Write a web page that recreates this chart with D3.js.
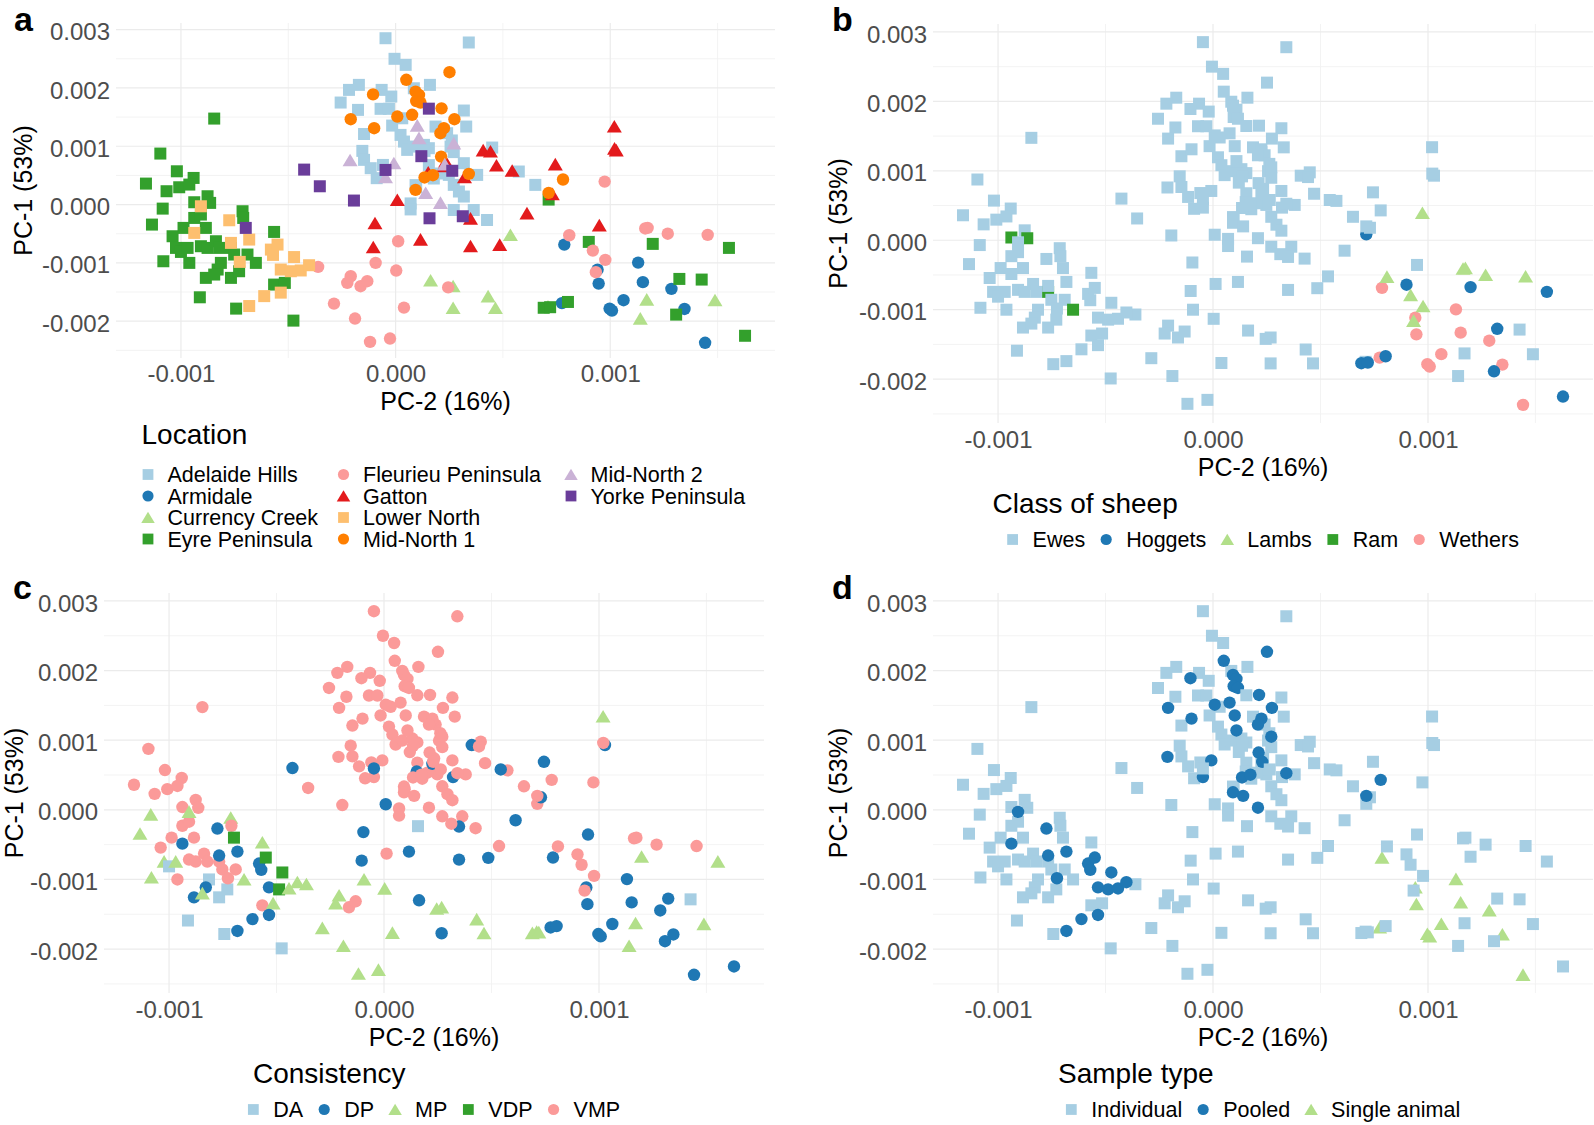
<!DOCTYPE html>
<html>
<head>
<meta charset="utf-8">
<script src="https://cdn.jsdelivr.net/npm/d3@7"></script>
<style>
  body { margin: 0; background: #fff; }
  svg { display: block; }
</style>
</head>
<body>
<svg id="fig" width="1594" height="1125"></svg>
<script>
// category levels, in legend order
var locations = ["Adelaide Hills", "Armidale", "Currency Creek", "Eyre Peninsula", "Fleurieu Peninsula",
                 "Gatton", "Lower North", "Mid-North 1", "Mid-North 2", "Yorke Peninsula"];
var sheepClasses = ["Ewes", "Hoggets", "Lambs", "Ram", "Wethers"];
var consistencies = ["DA", "DP", "MP", "VDP", "VMP"];
var sampleTypes = ["Individual", "Pooled", "Single animal"];

// axis ticks (PC values in units of 0.001)
var xTicks = [-1, 0, 1];
var xMinor = [-0.5, 0.5, 1.5];
var yTicks = [-2, -1, 0, 1, 2, 3];
var yMinor = [-2.5, -1.5, -0.5, 0.5, 1.5, 2.5];

// one array per location
// row: [PC-2, PC-1 (both x 0.001), class index, consistency index, sample type index]
var adelaideHills = [
  [-0.047, 2.853, 0, 4, 0], [0.341, 2.78, 0, 4, 0], [-0.005, 2.5, 0, 4, 0], [0.047, 2.396, 0, 4, 0],
  [-0.171, 2.053, 0, 4, 0], [-0.217, 1.967, 0, 4, 0], [-0.256, 1.75, 0, 4, 0], [-0.175, 1.624, 0, 4, 0],
  [-0.065, 1.967, 0, 4, 0], [-0.02, 1.853, 0, 4, 0], [-0.07, 1.642, 0, 4, 0], [-0.031, 1.642, 0, 4, 0],
  [0.085, 1.995, 0, 4, 0], [0.16, 2.053, 0, 4, 0], [0.318, 1.613, 0, 4, 0], [0.329, 1.338, 0, 4, 0],
  [-0.147, 1.21, 0, 4, 0], [-0.016, 1.355, 0, 4, 0], [0.031, 1.48, 0, 4, 0], [0.023, 1.195, 0, 4, 0],
  [0.039, 1.081, 0, 4, 0], [0.054, 0.938, 0, 4, 0], [0.085, 0.995, 0, 4, 0], [0.132, 1.024, 0, 4, 0],
  [0.155, 0.967, 0, 4, 0], [0.186, 1.338, 0, 4, 0], [0.24, 1.224, 0, 4, 0], [0.256, 0.995, 0, 4, 0],
  [0.271, 0.9, 0, 4, 0], [-0.155, 0.921, 0, 4, 0], [-0.147, 0.767, 0, 4, 0], [-0.116, 0.624, 0, 4, 0],
  [-0.088, 0.453, 0, 4, 0], [0.07, 0.02, 0, 4, 0], [0.093, 0.334, 0, 4, 0], [0.155, 0.677, 0, 4, 0],
  [0.248, 0.509, 0, 4, 0], [0.271, 0.338, 0, 4, 0], [0.295, 0.224, 0, 4, 0], [0.318, 0.138, 0, 4, 0],
  [0.318, 0.71, 0, 4, 0], [0.38, 0.509, 0, 4, 0], [0.364, -0.093, 0, 4, 0], [0.426, -0.264, 0, 4, 0],
  [0.271, -0.093, 0, 4, 0], [0.45, 0.978, 0, 4, 0], [0.574, 0.567, 0, 4, 0], [0.651, 0.338, 0, 4, 0],
  [0.07, -0.083, 0, 4, 0], [0.178, 0.447, 0, 4, 0], [0.202, 0.533, 0, 4, 0], [0.225, 1.269, 0, 4, 0],
  [0.262, 1.1, 0, 4, 0], [0.135, 0.92, 0, 4, 0], [0.096, 0.296, 0, 4, 0], [-0.059, 0.68, 0, 4, 0]
];
var armidale = [
  [0.786, -0.686, 4, 1, 2], [0.941, -1.115, 4, 1, 2], [0.946, -1.355, 4, 1, 2], [0.997, -1.784, 4, 1, 2],
  [1.008, -1.818, 4, 1, 2], [1.062, -1.64, 4, 1, 2], [1.13, -0.995, 4, 1, 2], [1.152, -1.33, 4, 1, 2],
  [1.285, -1.446, 4, 1, 2], [1.346, -1.79, 4, 1, 2], [1.442, -2.37, 4, 1, 2], [0.775, -1.69, 4, 1, 2]
];
var currencyCreek = [
  [0.535, -0.52, 0, 4, 0], [0.163, -1.3, 0, 1, 0], [0.268, -1.4, 0, 2, 0], [0.431, -1.573, 0, 2, 0],
  [0.268, -1.773, 0, 1, 0], [0.465, -1.773, 0, 2, 0], [1.17, -1.629, 0, 2, 0], [1.14, -1.955, 0, 2, 0],
  [1.488, -1.641, 0, 2, 0], [0.71, -1.75, 0, 2, 0]
];
var eyrePeninsula = [
  [-0.845, 1.475, 0, 4, 0], [-1.096, 0.875, 0, 4, 0], [-1.163, 0.36, 0, 4, 0], [-1.019, 0.571, 0, 4, 0],
  [-0.941, 0.457, 0, 4, 0], [-1.067, 0.229, 0, 4, 0], [-1.008, 0.297, 0, 4, 0], [-0.961, 0.343, 0, 4, 0],
  [-1.085, -0.069, 0, 2, 0], [-1.135, -0.343, 0, 2, 0], [-0.938, 0.04, 3, 4, 0], [-0.876, 0.143, 0, 4, 0],
  [-0.864, 0.029, 3, 4, 0], [-0.938, -0.229, 0, 4, 0], [-0.907, -0.171, 0, 4, 0], [-0.884, -0.4, 0, 4, 0],
  [-0.988, -0.4, 0, 4, 0], [-1.039, -0.543, 0, 4, 0], [-1.023, -0.743, 0, 2, 0], [-1.0, -0.812, 0, 0, 0],
  [-0.969, -0.743, 0, 2, 0], [-0.961, -1.0, 0, 4, 0], [-1.082, -0.972, 0, 2, 0], [-0.907, -0.714, 0, 4, 0],
  [-0.876, -0.743, 0, 4, 0], [-0.837, -0.629, 0, 4, 0], [-0.822, -0.743, 0, 4, 0], [-0.713, -0.114, 0, 2, 0],
  [-0.71, -0.229, 0, 4, 0], [-0.767, -0.743, 3, 4, 0], [-0.752, -0.857, 0, 4, 0], [-0.69, -0.857, 0, 4, 0],
  [-0.651, -1.0, 3, 2, 0], [-0.814, -1.0, 0, 0, 0], [-0.829, -1.114, 0, 1, 0], [-0.884, -1.257, 0, 1, 0],
  [-0.845, -1.2, 0, 2, 0], [-0.767, -1.257, 0, 0, 0], [-0.729, -1.143, 0, 0, 0], [-0.566, -0.469, 0, 2, 0],
  [-0.566, -1.372, 0, 4, 0], [-0.516, -1.343, 0, 2, 0], [-0.912, -1.59, 0, 0, 0], [-0.743, -1.784, 0, 0, 0],
  [-0.476, -1.99, 0, 0, 0], [0.713, 0.086, 1, 4, 0], [0.9, -0.64, 1, 4, 0], [1.198, -0.674, 1, 2, 0],
  [1.553, -0.743, 1, 2, 0], [1.322, -1.275, 1, 1, 0], [1.426, -1.286, 0, 0, 0], [1.307, -1.887, 1, 1, 0],
  [1.628, -2.25, 1, 1, 0], [0.69, -1.77, 1, 2, 0], [0.72, -1.76, 1, 2, 0], [0.803, -1.67, 1, 1, 0]
];
var fleurieuPeninsula = [
  [-0.361, -1.069, 0, 2, 0], [-0.209, -1.229, 0, 2, 0], [-0.225, -1.343, 0, 2, 0], [-0.163, -1.4, 0, 4, 0],
  [-0.132, -1.314, 0, 4, 0], [-0.287, -1.698, 0, 2, 0], [-0.189, -1.955, 0, 2, 0], [-0.119, -2.355, 0, 2, 0],
  [-0.026, -2.298, 0, 2, 0], [-0.093, -1.0, 0, 2, 0], [0.012, -0.629, 0, 4, 0], [0.003, -1.131, 0, 2, 0],
  [0.039, -1.767, 0, 2, 0], [0.974, 0.394, 2, 4, 0], [0.809, -0.526, 2, 4, 0], [0.919, -0.789, 2, 4, 0],
  [0.977, -0.949, 2, 4, 0], [0.933, -1.16, 2, 4, 0], [1.163, -0.41, 2, 4, 0], [1.174, -0.4, 2, 4, 0],
  [1.268, -0.5, 2, 4, 0], [1.454, -0.52, 2, 4, 0], [0.245, -1.42, 0, 2, 0]
];
var gatton = [
  [-0.104, -0.73, 0, 1, 0], [-0.096, -0.32, 0, 1, 0], [0.008, 0.08, 0, 1, 0], [0.116, -0.6, 0, 1, 0],
  [0.152, 0.55, 0, 1, 0], [0.225, 0.66, 0, 1, 0], [0.233, 0.74, 0, 4, 0], [0.321, 0.47, 0, 1, 0],
  [0.349, -0.24, 0, 1, 0], [0.349, -0.715, 0, 1, 0], [0.408, 0.93, 0, 1, 0], [0.442, 0.91, 0, 4, 0],
  [0.47, 0.67, 0, 4, 0], [0.485, -0.69, 0, 1, 0], [0.543, 0.58, 0, 1, 0], [0.612, -0.15, 0, 1, 0],
  [0.73, 0.18, 0, 1, 0], [0.744, 0.69, 0, 1, 0], [0.949, -0.355, 0, 1, 0], [1.019, 1.34, 0, 2, 0],
  [1.028, 0.93, 0, 1, 0], [1.02, 0.96, 0, 4, 0]
];
var lowerNorth = [
  [-0.775, -0.269, 0, 1, 1], [-0.682, -0.6, 0, 1, 1], [-0.938, -0.486, 0, 1, 1], [-0.907, -0.029, 0, 2, 1],
  [-0.767, -0.657, 0, 1, 1], [-0.581, -0.772, 0, 1, 1], [-0.55, -0.686, 0, 3, 1], [-0.473, -0.9, 0, 3, 1],
  [-0.535, -1.114, 0, 1, 1], [-0.488, -1.143, 0, 3, 1], [-0.442, -1.13, 0, 2, 1], [-0.403, -1.04, 0, 2, 1],
  [-0.612, -1.57, 0, 1, 1], [-0.535, -1.51, 0, 1, 1], [-0.682, -1.74, 0, 1, 1], [-0.726, -0.983, 0, 4, 1],
  [-0.571, -0.863, 0, 1, 1]
];
var midNorth1 = [
  [0.251, 2.27, 0, 4, 1], [0.05, 2.14, 0, 4, 1], [-0.105, 1.89, 0, 4, 1], [0.093, 1.938, 0, 4, 1],
  [0.109, 1.88, 0, 4, 1], [0.096, 1.775, 0, 4, 1], [0.116, 1.75, 0, 4, 1], [0.214, 1.65, 0, 4, 1],
  [-0.209, 1.464, 0, 4, 1], [-0.1, 1.31, 0, 4, 1], [0.274, 1.464, 0, 4, 1], [0.077, 1.54, 0, 4, 1],
  [0.008, 1.51, 0, 4, 1], [0.225, 1.31, 0, 4, 1], [0.209, 1.224, 0, 4, 1], [0.212, 0.823, 0, 4, 1],
  [0.093, 0.252, 0, 4, 1], [0.135, 0.465, 0, 4, 1], [0.174, 0.504, 0, 4, 1], [0.341, 0.526, 0, 4, 1],
  [0.78, 0.43, 0, 4, 1], [0.713, 0.2, 0, 4, 1]
];
var midNorth2 = [
  [-0.212, 0.76, 0, 4, 1], [-0.008, 0.71, 0, 4, 1], [-0.047, 0.47, 0, 4, 1], [0.101, 1.355, 0, 4, 1],
  [0.109, 1.14, 0, 4, 1], [0.271, 1.05, 0, 4, 1], [0.14, 0.2, 0, 4, 1], [0.209, 0.03, 0, 4, 1],
  [0.229, 0.69, 0, 4, 1]
];
var yorkePeninsula = [
  [-0.426, 0.6, 0, 1, 0], [-0.353, 0.314, 0, 4, 0], [-0.194, 0.069, 0, 4, 0], [0.158, -0.235, 0, 0, 0],
  [0.12, 0.83, 0, 4, 0], [0.155, 1.645, 0, 4, 0], [0.313, -0.2, 0, 4, 0], [-0.047, 0.594, 0, 1, 0],
  [0.264, 0.58, 0, 4, 0], [-0.698, -0.4, 0, 3, 0]
];

var FONT = "'Liberation Sans', Arial, sans-serif";
var palette = ["#A6CEE3", "#1F78B4", "#B2DF8A", "#33A02C", "#FB9A99",
               "#E31A1C", "#FDBF6F", "#FF7F00", "#CAB2D6", "#6A3D9A"];
var shapes = ["square", "circle", "triangle"];

var groups = [adelaideHills, armidale, currencyCreek, eyrePeninsula, fleurieuPeninsula,
              gatton, lowerNorth, midNorth1, midNorth2, yorkePeninsula];
var points = [];
groups.forEach(function(rows, li) {
  rows.forEach(function(r) {
    points.push({ pc2: r[0], pc1: r[1], loc: li, cls: r[2], con: r[3], smp: r[4] });
  });
});

// ggplot style 5% expansion of the data range
function expand(ext) {
  var pad = (ext[1] - ext[0]) * 0.05;
  return [ext[0] - pad, ext[1] + pad];
}
var xDom = expand(d3.extent(points, function(d) { return d.pc2; }));
var yDom = expand(d3.extent(points, function(d) { return d.pc1; }));

function fmt(v) { return (v / 1000).toFixed(3); }

function markPath(shape) {
  if (shape === "square") return "M-6,-6h12v12h-12Z";
  if (shape === "circle") return d3.symbol(d3.symbolCircle, Math.PI * 6.2 * 6.2)();
  return "M0,-6.5L7.5,6.1L-7.5,6.1Z";
}

var panels = [
  { tag: "a", field: "loc", cats: locations, title: "Location",
    left: 116, right: 775, top: 23, bottom: 358, tagX: 14, tagY: 31,
    yTitleX: 32, xPad: 7, xTitleY: 410, legTitleX: 141.5, legTitleY: 444, grid: true },
  { tag: "b", field: "cls", cats: sheepClasses, title: "Class of sheep",
    left: 933, right: 1593, top: 24, bottom: 423, tagX: 832, tagY: 31,
    yTitleX: 847, xPad: 8.3, xTitleY: 476, legTitleX: 992.5, legTitleY: 512.7, legRowY: 539.5 },
  { tag: "c", field: "con", cats: consistencies, title: "Consistency",
    left: 104, right: 764, top: 593, bottom: 993, tagX: 13, tagY: 598.5,
    yTitleX: 23, xPad: 8.3, xTitleY: 1046, legTitleX: 253, legTitleY: 1082.7, legRowY: 1109.5 },
  { tag: "d", field: "smp", cats: sampleTypes, title: "Sample type",
    left: 933, right: 1593, top: 593, bottom: 993, tagX: 832, tagY: 598.5,
    yTitleX: 847, xPad: 8.3, xTitleY: 1046, legTitleX: 1058, legTitleY: 1082.7, legRowY: 1109.5 }
];

var svg = d3.select("#fig");
svg.append("rect").attr("width", 1594).attr("height", 1125).attr("fill", "#fff");

panels.forEach(function(p) {
  var x = d3.scaleLinear().domain(xDom).range([p.left, p.right]);
  var y = d3.scaleLinear().domain(yDom).range([p.bottom, p.top]);
  var g = svg.append("g").attr("font-family", FONT);

  // grid, minor first
  g.selectAll(".xminor").data(xMinor.filter(function(v) { return v > xDom[0] && v < xDom[1]; }))
    .enter().append("line")
    .attr("x1", x).attr("x2", x).attr("y1", p.top).attr("y2", p.bottom)
    .attr("stroke", "#f2f2f2").attr("stroke-width", 0.9);
  g.selectAll(".yminor").data(yMinor.filter(function(v) { return v > yDom[0] && v < yDom[1]; }))
    .enter().append("line")
    .attr("y1", y).attr("y2", y).attr("x1", p.left).attr("x2", p.right)
    .attr("stroke", "#f2f2f2").attr("stroke-width", 0.9);
  g.selectAll(".xmajor").data(xTicks).enter().append("line")
    .attr("x1", x).attr("x2", x).attr("y1", p.top).attr("y2", p.bottom)
    .attr("stroke", "#ebebeb").attr("stroke-width", 1.2);
  g.selectAll(".ymajor").data(yTicks).enter().append("line")
    .attr("y1", y).attr("y2", y).attr("x1", p.left).attr("x2", p.right)
    .attr("stroke", "#ebebeb").attr("stroke-width", 1.2);

  // axes
  var xa = g.append("g").attr("transform", "translate(0," + p.bottom + ")")
    .call(d3.axisBottom(x).tickValues(xTicks).tickSize(0).tickPadding(p.xPad).tickFormat(fmt));
  var ya = g.append("g").attr("transform", "translate(" + p.left + ",0)")
    .call(d3.axisLeft(y).tickValues(yTicks).tickSize(0).tickPadding(6).tickFormat(fmt));
  [xa, ya].forEach(function(a) {
    a.select(".domain").remove();
    a.attr("font-family", FONT).attr("font-size", 24);
    a.selectAll("text").attr("fill", "#4d4d4d");
  });
  ya.selectAll("text").attr("dy", "0.42em");

  g.append("text").attr("x", (p.left + p.right) / 2).attr("y", p.xTitleY)
    .attr("text-anchor", "middle").attr("font-size", 25).attr("fill", "#000")
    .text("PC-2 (16%)");
  g.append("text")
    .attr("transform", "translate(" + p.yTitleX + "," + (p.top + p.bottom) / 2 + ") rotate(-90)")
    .attr("text-anchor", "middle").attr("font-size", 25).attr("fill", "#000")
    .text("PC-1 (53%)");

  // points
  g.append("g").selectAll("path").data(points).enter().append("path")
    .attr("d", function(d) { return markPath(shapes[d[p.field] % 3]); })
    .attr("transform", function(d) { return "translate(" + x(d.pc2) + "," + y(d.pc1) + ")"; })
    .attr("fill", function(d) { return palette[d[p.field]]; });

  // panel tag
  g.append("text").attr("x", p.tagX).attr("y", p.tagY)
    .attr("font-size", 34).attr("font-weight", "bold").attr("fill", "#000").text(p.tag);

  // legend
  var lg = g.append("g");
  lg.append("text").attr("x", p.legTitleX).attr("y", p.legTitleY)
    .attr("font-size", 28).attr("fill", "#000").text(p.title);

  if (p.grid) {
    var colX = [148, 343.5, 571];
    var rowY = [474.5, 496, 517.5, 539];
    p.cats.forEach(function(c, i) {
      var cx = colX[Math.floor(i / 4)], cy = rowY[i % 4];
      lg.append("path").attr("d", markPath(shapes[i % 3]))
        .attr("transform", "translate(" + cx + "," + cy + ") scale(0.9)").attr("fill", palette[i]);
      lg.append("text").attr("x", cx + 19.5).attr("y", cy + 7.8)
        .attr("font-size", 21.5).attr("fill", "#000").text(c);
    });
  } else {
    var row = lg.append("g");
    var kx = 0;
    p.cats.forEach(function(c, i) {
      row.append("path").attr("d", markPath(shapes[i % 3]))
        .attr("transform", "translate(" + kx + "," + p.legRowY + ") scale(0.9)").attr("fill", palette[i]);
      var t = row.append("text").attr("x", kx + 20).attr("y", p.legRowY + 7.8)
        .attr("font-size", 21.5).attr("fill", "#000").text(c);
      kx = kx + 20 + t.node().getComputedTextLength() + 21;
    });
    var rowLeft = -5.5, rowRight = kx - 21;
    var shift = (p.left + p.right) / 2 - (rowLeft + rowRight) / 2;
    row.attr("transform", "translate(" + shift + ",0)");
  }
});
</script>
</body>
</html>
